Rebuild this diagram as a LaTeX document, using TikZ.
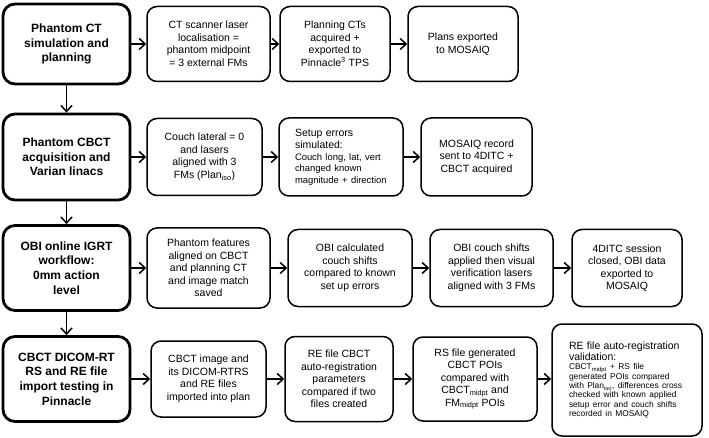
\documentclass[tikz,border=0pt]{standalone}
\usepackage{fontspec}
\setmainfont{Liberation Sans}
\usetikzlibrary{arrows.meta}
\begin{document}
\begin{tikzpicture}[x=1pt,y=-1pt,
  box/.style={draw, line width=1.5pt, rounded corners=10pt, align=center, inner sep=2pt,
    font=\fontsize{10.5}{12.5}\selectfont},
  mainbox/.style={draw, line width=2.8pt, rounded corners=12pt, align=center, inner sep=2pt,
    font=\bfseries\fontsize{12}{14.7}\selectfont, minimum width=127, minimum height=84},
  leftbox/.style={draw, line width=1.5pt, rounded corners=10pt, inner sep=2pt,
    execute at begin node={\raggedright\hyphenpenalty=10000\parindent=0pt\relax}},
  arr/.style={line width=1.5pt, -{Straight Barb[length=6pt,width=11pt,line width=1.5pt]}}
]
\useasboundingbox (0,0) rectangle (709,438);

% Row 1
\node[mainbox, minimum height=80] (A1) at (66.5,44) {Phantom CT\\simulation and\\planning};
\node[box, minimum width=123, minimum height=75] (B1) at (208.5,44) {CT scanner laser\\localisation =\\phantom midpoint\\= 3 external FMs};
\node[box, minimum width=110, minimum height=75] (C1) at (335,44) {Planning CTs\\acquired +\\exported to\\Pinnacle\textsuperscript{3} TPS};
\node[box, minimum width=110, minimum height=75] (D1) at (463,44) {Plans exported\\to MOSAIQ};

% Row 2
\node[mainbox, minimum height=86] (A2) at (66.5,157) {Phantom CBCT\\acquisition and\\Varian linacs};
\node[box, minimum width=115, minimum height=77] (B2) at (204.5,157) {Couch lateral = 0\\and lasers\\aligned with 3\\FMs (Plan\textsubscript{iso})};
\node[leftbox, minimum width=124, minimum height=78, text width=92pt] (C2) at (341,157)
  {\fontsize{10.5}{12.5}\selectfont Setup errors\par simulated:\par
   \fontsize{9.4}{11.5}\selectfont Couch long, lat, vert\par changed known\par magnitude + direction\par};
\node[box, minimum width=111, minimum height=78] (D2) at (476.5,157) {MOSAIQ record\\sent to 4DITC +\\CBCT acquired};

% Row 3
\node[mainbox, minimum height=85] (A3) at (66.5,268) {OBI online IGRT\\workflow:\\0mm action\\level};
\node[box, minimum width=123, minimum height=80] (B3) at (208.5,268) {Phantom features\\aligned on CBCT\\and planning CT\\and image match\\saved};
\node[box, minimum width=124, minimum height=77] (C3) at (350,268) {OBI calculated\\couch shifts\\compared to known\\set up errors};
\node[box, minimum width=123, minimum height=77] (D3) at (491.5,268) {OBI couch shifts\\applied then visual\\verification lasers\\aligned with 3 FMs};
\node[box, minimum width=110, minimum height=77] (E3) at (627,268) {4DITC session\\closed, OBI data\\exported to\\MOSAIQ};

% Row 4
\node[mainbox, minimum height=85] (A4) at (66.5,379) {CBCT DICOM-RT\\RS and RE file\\import testing in\\Pinnacle};
\node[box, minimum width=115, minimum height=76] (B4) at (208.5,379) {CBCT image and\\its DICOM-RTRS\\and RE files\\imported into plan};
\node[box, minimum width=108, minimum height=85] (C4) at (339,379) {RE file CBCT\\auto-registration\\parameters\\compared if two\\files created};
\node[box, minimum width=124, minimum height=84] (D4) at (475,379) {RS file generated\\CBCT POIs\\compared with\\CBCT\textsubscript{midpt} and\\FM\textsubscript{midpt} POIs};
\node[leftbox, minimum width=150, minimum height=112, text width=116pt] (E4) at (627,380)
  {\fontsize{10.5}{11}\selectfont RE file auto-registration\par validation:\par
   \fontsize{8.4}{9.3}\selectfont CBCT\textsubscript{midpt} + RS file\par generated POIs compared\par with Plan\textsubscript{iso}, differences cross\par checked with known applied\par setup error and couch shifts\par recorded in MOSAIQ\par};

% Horizontal arrows
\draw[arr] (A1) -- (B1);
\draw[arr] (B1) -- (C1);
\draw[arr] (C1) -- (D1);
\draw[arr] (A2) -- (B2);
\draw[arr] (B2) -- (C2);
\draw[arr] (C2) -- (D2);
\draw[arr] (A3) -- (B3);
\draw[arr] (B3) -- (C3);
\draw[arr] (C3) -- (D3);
\draw[arr] (D3) -- (E3);
\draw[arr] (A4) -- (B4);
\draw[arr] (B4) -- (C4);
\draw[arr] (C4) -- (D4);
\draw[arr] (D4.east) -- (D4.east -| E4.west);

% Vertical arrows
\draw[arr] (A1) -- (A2);
\draw[arr] (A2) -- (A3);
\draw[arr] (A3) -- (A4);
\end{tikzpicture}
\end{document}
